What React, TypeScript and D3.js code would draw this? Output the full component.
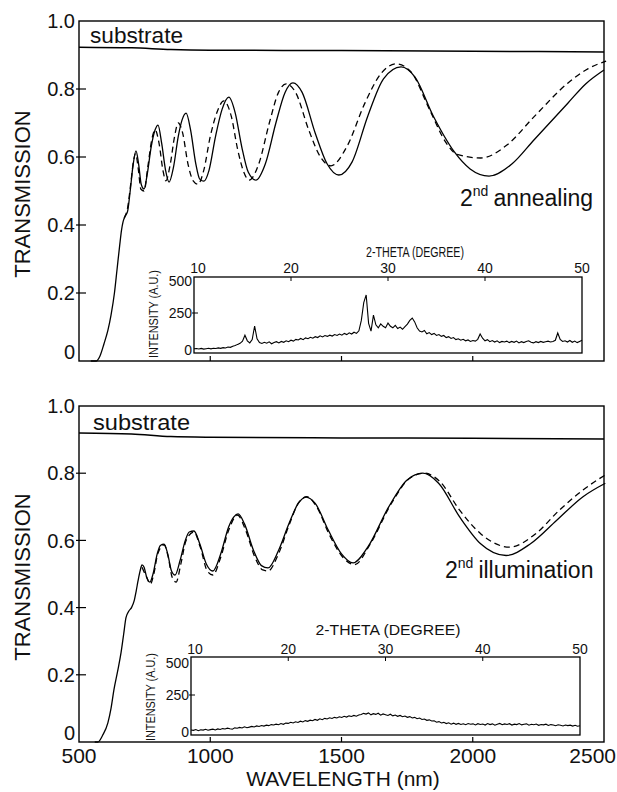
import React from 'react';
import * as d3 from 'd3';

// ---------- DATA ----------
const WL_TICKS = [500, 1000, 1500, 2000, 2500];
const T_TICKS = [0, 0.2, 0.4, 0.6, 0.8, 1.0];
const T_TICK_LABELS = ['0', '0.2', '0.4', '0.6', '0.8', '1.0'];
const THETA_TICKS = [10, 20, 30, 40, 50];
const INT_TICKS = [0, 250, 500];

// substrate transmission [nm, T]
const substrateTop: [number, number][] = [[500, 0.923], [700, 0.921], [850, 0.916], [1000, 0.914], [1500, 0.913], [2000, 0.911], [2500, 0.909]];
const substrateBottom: [number, number][] = [[500, 0.92], [700, 0.917], [850, 0.909], [1000, 0.907], [1500, 0.905], [2000, 0.904], [2500, 0.902]];

// 2nd annealing: measured (solid) and fitted (dashed)
const annealMeasured: [number, number][] = [
  [545, 0], [565, 0.0], [580, 0.015], [595, 0.05], [610, 0.09], [622, 0.135], [635, 0.2], [645, 0.27], [655, 0.34],
  [662, 0.385], [668, 0.41], [675, 0.425], [685, 0.44], [695, 0.5], [705, 0.57], [717, 0.618], [727, 0.58], [737, 0.52],
  [748, 0.506], [760, 0.55], [775, 0.63], [790, 0.68], [801, 0.694], [815, 0.64], [830, 0.56], [843, 0.526], [860, 0.57],
  [878, 0.66], [893, 0.71], [908, 0.729], [925, 0.68], [945, 0.58], [960, 0.535], [976, 0.529], [995, 0.56], [1020, 0.66],
  [1045, 0.74], [1071, 0.776], [1095, 0.73], [1120, 0.63], [1145, 0.555], [1174, 0.532], [1210, 0.58], [1250, 0.7],
  [1285, 0.79], [1315, 0.818], [1350, 0.79], [1400, 0.67], [1445, 0.58], [1490, 0.547], [1540, 0.585], [1600, 0.72],
  [1660, 0.83], [1727, 0.865], [1780, 0.835], [1850, 0.72], [1930, 0.615], [1990, 0.565], [2062, 0.544], [2150, 0.58],
  [2233, 0.65], [2363, 0.759], [2430, 0.815], [2500, 0.856],
];
const annealFit: [number, number][] = [
  [672, 0.42], [685, 0.45], [697, 0.52], [708, 0.59], [716, 0.61], [725, 0.57], [736, 0.505], [748, 0.5], [762, 0.57],
  [777, 0.65], [790, 0.68], [805, 0.64], [820, 0.56], [831, 0.53], [848, 0.58], [864, 0.66], [878, 0.7], [895, 0.67],
  [915, 0.58], [935, 0.53], [953, 0.52], [975, 0.56], [1000, 0.66], [1025, 0.73], [1052, 0.765], [1080, 0.72],
  [1105, 0.62], [1128, 0.555], [1148, 0.532], [1185, 0.58], [1225, 0.7], [1260, 0.79], [1289, 0.815], [1325, 0.79],
  [1375, 0.68], [1420, 0.6], [1460, 0.574], [1520, 0.63], [1590, 0.76], [1650, 0.845], [1708, 0.874], [1765, 0.85],
  [1835, 0.74], [1900, 0.64], [1940, 0.608], [2031, 0.597], [2130, 0.635], [2233, 0.718], [2363, 0.818], [2440, 0.86],
  [2508, 0.882],
];

// 2nd illumination: measured (solid) and fitted (dashed)
const illumMeasured: [number, number][] = [
  [560, 0], [572, 0.0], [590, 0.02], [610, 0.057], [622, 0.1], [633, 0.155], [647, 0.21], [660, 0.265], [670, 0.32],
  [679, 0.37], [690, 0.39], [700, 0.4], [710, 0.42], [718, 0.45], [725, 0.48], [733, 0.51], [740, 0.527], [748, 0.52],
  [758, 0.49], [770, 0.476], [782, 0.5], [798, 0.56], [810, 0.585], [824, 0.589], [838, 0.56], [852, 0.51], [866, 0.497],
  [885, 0.54], [905, 0.6], [920, 0.625], [938, 0.628], [960, 0.59], [985, 0.53], [1010, 0.509], [1040, 0.56], [1070, 0.64],
  [1090, 0.67], [1106, 0.679], [1130, 0.65], [1165, 0.57], [1195, 0.525], [1220, 0.518], [1260, 0.57], [1300, 0.65],
  [1335, 0.71], [1365, 0.729], [1400, 0.71], [1450, 0.63], [1500, 0.56], [1544, 0.533], [1600, 0.58], [1680, 0.7],
  [1750, 0.78], [1810, 0.8], [1870, 0.77], [1950, 0.67], [2030, 0.59], [2127, 0.555], [2220, 0.59], [2320, 0.66],
  [2420, 0.73], [2505, 0.77],
];
const illumFit: [number, number][] = [
  [740, 0.52], [758, 0.49], [772, 0.47], [785, 0.5], [800, 0.56], [824, 0.587], [840, 0.55], [855, 0.49], [870, 0.476],
  [888, 0.53], [908, 0.6], [938, 0.625], [962, 0.58], [988, 0.51], [1010, 0.497], [1040, 0.55], [1070, 0.63],
  [1104, 0.675], [1135, 0.63], [1170, 0.55], [1200, 0.512], [1220, 0.509], [1260, 0.56], [1300, 0.645], [1335, 0.71],
  [1368, 0.73], [1405, 0.7], [1455, 0.615], [1505, 0.55], [1550, 0.528], [1610, 0.59], [1690, 0.71], [1760, 0.785],
  [1815, 0.8], [1875, 0.775], [1950, 0.69], [2030, 0.62], [2140, 0.58], [2240, 0.62], [2330, 0.69], [2420, 0.75],
  [2505, 0.795],
];

// XRD insets: 2-theta from 10 to 50 deg, step 0.25 deg
const THETA_START = 10;
const THETA_STEP = 0.25;
const xrdAnnealing = [
  8, 10, 7, 11, 6, 9, 12, 8, 12, 10, 14, 11, 16, 14, 20, 18, 26, 30, 38, 45, 60, 100, 62, 48, 70, 162, 75, 50, 44, 52,
  46, 55, 42, 50, 56, 48, 58, 52, 62, 56, 66, 60, 72, 68, 78, 70, 82, 76, 86, 80, 90, 84, 96, 88, 98, 92, 100, 94, 104,
  98, 108, 100, 112, 104, 116, 108, 120, 112, 130, 200, 320, 372, 180, 128, 236, 170, 150, 176, 160, 150, 182, 160, 150,
  166, 145, 155, 140, 158, 175, 200, 216, 190, 150, 128, 122, 132, 110, 118, 104, 112, 98, 104, 92, 98, 84, 90, 78, 84,
  70, 76, 66, 72, 62, 68, 58, 64, 60, 72, 108, 80, 62, 70, 56, 64, 54, 62, 50, 58, 54, 60, 50, 58, 52, 60, 48, 56, 50,
  58, 62, 52, 48, 56, 50, 58, 52, 56, 60, 54, 58, 66, 115, 72, 58, 62, 54, 64, 52, 60, 50, 58, 66,
];
const xrdIllumination = [
  14, 11, 17, 9, 15, 13, 18, 12, 16, 19,
  14, 21, 17, 23, 20, 26, 22, 19, 28, 25,
  31, 27, 35, 29, 33, 38, 34, 41, 37, 44,
  40, 46, 43, 50, 47, 53, 49, 57, 52, 60,
  58, 66, 61, 69, 64, 73, 68, 77, 72, 80,
  76, 85, 79, 89, 83, 92, 88, 96, 91, 99,
  95, 103, 98, 106, 101, 109, 105, 112, 107, 115,
  118, 126, 121, 129, 116, 124, 119, 127, 114, 122,
  117, 112, 120, 109, 115, 106, 112, 103, 108, 99,
  104, 95, 99, 90, 94, 85, 88, 79, 82, 74,
  76, 66, 70, 61, 65, 57, 62, 53, 60, 52,
  58, 51, 56, 49, 57, 52, 55, 48, 56, 51,
  54, 47, 57, 50, 55, 46, 53, 58, 49, 55,
  51, 56, 47, 53, 50, 57, 48, 52, 55, 46,
  52, 49, 54, 45, 51, 48, 53, 44, 50, 47,
  42, 49, 45, 41, 47, 43, 46, 40, 45, 39,
  42,
];

// ---------- CHART ----------
const FONT = '"Liberation Sans", Arial, Helvetica, sans-serif';

type PanelDef = {
  top: number;
  bottom: number;
  substrate: [number, number][];
  measured: [number, number][];
  fit: [number, number][];
  showXLabels: boolean;
  label: string;
  labelX: number;
  labelY: number;
  subX: number;
  subY: number;
  subLen: number;
  inset: { left: number; right: number; top: number; bottom: number; y0: number; y500: number; data: number[]; titleX: number; titleY: number; titleLen: number; numY: number; intX: number; intY: number };
  titleY: number;
};

function Panel({ p, x }: { p: PanelDef; x: d3.ScaleLinear<number, number> }) {
  const y = d3.scaleLinear().domain([0, 1]).range([p.bottom, p.top]);
  const line = d3.line<[number, number]>().x(d => x(d[0])).y(d => y(d[1])).curve(d3.curveMonotoneX);
  const subLine = d3.line<[number, number]>().x(d => x(d[0])).y(d => y(d[1])).curve(d3.curveMonotoneX);
  const L = x(500), R = x(2500);

  const ins = p.inset;
  const ix = d3.scaleLinear().domain([10, 50]).range([ins.left, ins.right]);
  const iy = d3.scaleLinear().domain([0, 500]).range([ins.y0, ins.y500]);
  const xrdLine = d3.line<number>().x((_, i) => ix(THETA_START + i * THETA_STEP)).y(d => iy(d));

  return (
    <g>
      {/* frame */}
      <rect x={L} y={p.top} width={R - L} height={p.bottom - p.top} fill="none" stroke="#000" strokeWidth={1.4} />
      {/* y ticks */}
      {T_TICKS.map((v, i) => (
        <g key={'yt' + i}>
          {v > 0 && v < 1 && <line x1={L - 3} x2={L + 7} y1={y(v)} y2={y(v)} stroke="#000" strokeWidth={1.2} />}
          <text x={L - 4} y={v === 0 ? p.bottom - 2 : y(v)} dy={v === 0 ? 0 : '0.36em'} textAnchor="end" fontSize={20} fill="#111">
            {T_TICK_LABELS[i]}
          </text>
        </g>
      ))}
      {/* x ticks */}
      {WL_TICKS.map((v, i) => (
        <g key={'xt' + i}>
          {v > 500 && v < 2500 && <line x1={x(v)} x2={x(v)} y1={p.bottom - 5} y2={p.bottom} stroke="#000" strokeWidth={1.2} />}
          {p.showXLabels && (
            <text x={v === 2500 ? 616 : x(v)} y={p.bottom + 21} textAnchor={v === 2500 ? 'end' : 'middle'} fontSize={21} fill="#111">
              {v}
            </text>
          )}
        </g>
      ))}
      {/* y axis title */}
      <text transform={`translate(30,${p.titleY}) rotate(-90)`} textAnchor="middle" fontSize={22} fill="#111">TRANSMISSION</text>
      {/* substrate */}
      <path d={subLine(p.substrate) || ''} fill="none" stroke="#000" strokeWidth={1.5} />
      <text x={p.subX} y={p.subY} fontSize={22} textLength={p.subLen} lengthAdjust="spacingAndGlyphs" fill="#111">substrate</text>
      {/* spectra */}
      <path d={line(p.measured) || ''} fill="none" stroke="#000" strokeWidth={1.3} />
      <path d={line(p.fit) || ''} fill="none" stroke="#000" strokeWidth={1.3} strokeDasharray="6,4" />
      {/* panel label */}
      <text x={p.labelX} y={p.labelY} fontSize={23} fill="#111">
        2<tspan fontSize={14} dy={-10}>nd</tspan><tspan dy={10} dx={5}>{p.label}</tspan>
      </text>
      {/* inset */}
      <rect x={ins.left} y={ins.top} width={ins.right - ins.left} height={ins.bottom - ins.top} fill="none" stroke="#000" strokeWidth={1.3} />
      {THETA_TICKS.map((v, i) => (
        <g key={'it' + i}>
          {v > 10 && v < 50 && <line x1={ix(v)} x2={ix(v)} y1={ins.top} y2={ins.top + 4} stroke="#000" strokeWidth={1} />}
          <text x={ix(v) + (v === 10 ? 4 : 0)} y={ins.numY} textAnchor="middle" fontSize={14} fill="#111">{v}</text>
        </g>
      ))}
      {INT_TICKS.map((v, i) => (
        <g key={'iy' + i}>
          {v === 250 && <line x1={ins.left - 2} x2={ins.left + 4} y1={iy(v)} y2={iy(v)} stroke="#000" strokeWidth={1} />}
          <text x={ins.left - 2} y={iy(v) + (v === 500 ? 5 : 0)} dy="0.36em" textAnchor="end" fontSize={14} fill="#111">{v}</text>
        </g>
      ))}
      <text x={ins.titleX} y={ins.titleY} textAnchor="middle" fontSize={14} textLength={ins.titleLen} lengthAdjust="spacingAndGlyphs" fill="#111">2-THETA (DEGREE)</text>
      <text transform={`translate(${ins.intX},${ins.intY}) rotate(-90)`} textAnchor="middle" fontSize={12} textLength={88} lengthAdjust="spacingAndGlyphs" fill="#111">INTENSITY (A.U.)</text>
      <path d={xrdLine(ins.data) || ''} fill="none" stroke="#000" strokeWidth={1.1} />
    </g>
  );
}

export default function App() {
  const x = d3.scaleLinear().domain([500, 2500]).range([79, 604]);
  const panels: PanelDef[] = [
    {
      top: 21, bottom: 361, substrate: substrateTop, measured: annealMeasured, fit: annealFit, showXLabels: false,
      label: 'annealing', labelX: 460, labelY: 206, subX: 90, subY: 43, subLen: 93, titleY: 194,
      inset: { left: 194, right: 582, top: 277, bottom: 353, y0: 350, y500: 276, data: xrdAnnealing, titleX: 415, titleY: 257, titleLen: 98, numY: 273, intX: 158, intY: 314 },
    },
    {
      top: 406, bottom: 742, substrate: substrateBottom, measured: illumMeasured, fit: illumFit, showXLabels: true,
      label: 'illumination', labelX: 445, labelY: 578, subX: 93, subY: 430, subLen: 97, titleY: 577,
      inset: { left: 191, right: 580, top: 657, bottom: 735, y0: 732, y500: 658, data: xrdIllumination, titleX: 388, titleY: 635, titleLen: 145, numY: 654, intX: 155, intY: 697 },
    },
  ];
  return (
    <svg width={617} height={792} style={{ position: 'absolute', left: 0, top: 0, background: '#fff' }} fontFamily={FONT}>
      <rect width={617} height={792} fill="#fff" />
      {panels.map((p, i) => <Panel key={i} p={p} x={x} />)}
      <text x={343} y={786} textAnchor="middle" fontSize={21} fill="#111">WAVELENGTH (nm)</text>
    </svg>
  );
}
